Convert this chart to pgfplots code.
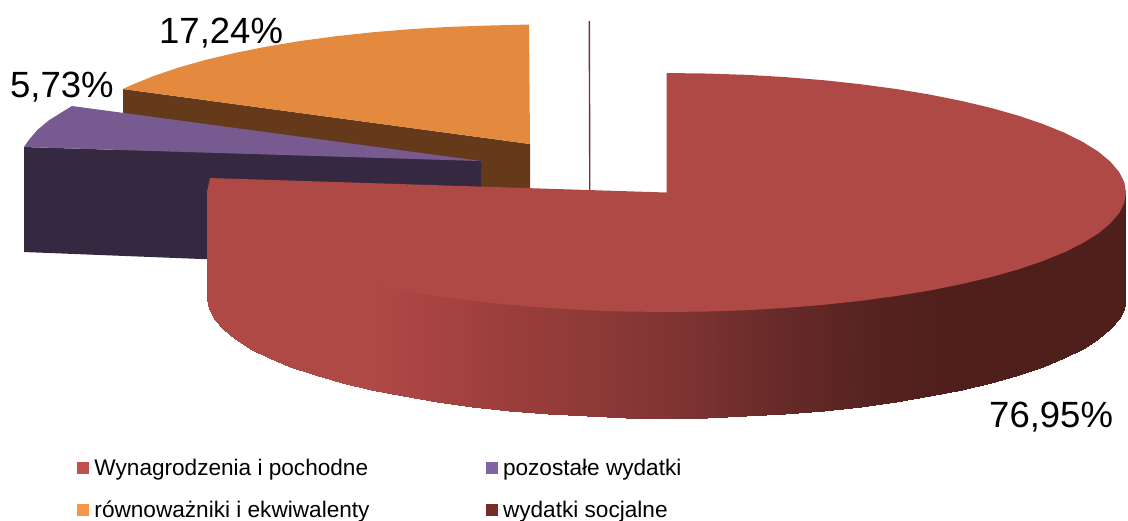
\documentclass[border=0pt]{standalone}
\usepackage{pgfplots}
\pgfplotsset{compat=1.18}
\usepackage{fontspec}
\setmainfont{Liberation Sans}
\definecolor{redface}{RGB}{175,73,70}
\definecolor{orangeface}{RGB}{227,138,63}
\definecolor{orangeside}{RGB}{101,58,27}
\definecolor{purpleface}{RGB}{118,90,144}
\definecolor{purpleside}{RGB}{53,41,66}
\definecolor{thin}{RGB}{110,50,50}
\definecolor{lega}{RGB}{192,80,77}
\definecolor{legb}{RGB}{128,100,162}
\definecolor{legc}{RGB}{247,150,70}
\definecolor{legd}{RGB}{119,44,42}
\newcommand{\biglabel}[1]{\fontsize{36.5}{40}\selectfont #1}
\begin{document}
\begin{tikzpicture}
\path[use as bounding box] (0,0) rectangle (1128pt,520pt);
\begin{axis}[
  at={(0,0)}, anchor=south west,
  width=1128pt, height=520pt, scale only axis,
  xmin=0, xmax=1128, ymin=0, ymax=520, zmin=-1, zmax=1,
  y dir=reverse, view={0}{90},
  axis lines=none, clip=false,
  colormap={wall}{
    rgb255(207pt)=(175,73,70);
    rgb255(370pt)=(175,73,70);
    rgb255(480pt)=(160,64,61);
    rgb255(600pt)=(140,57,55);
    rgb255(690pt)=(124,51,49);
    rgb255(780pt)=(103,42,40);
    rgb255(870pt)=(87,35,32);
    rgb255(950pt)=(79,31,28);
    rgb255(1126pt)=(79,31,28)},
  legend columns=2,
  legend image code/.code={\path[#1] (0pt,-6pt) rectangle (12pt,6pt); \path (0pt,0pt) -- (15.5pt,0pt);},
  legend style={
    at={(0.06826,0.1212)}, anchor=north west, draw=none, fill=none,
    inner sep=0pt, outer sep=0pt, font=\fontsize{22.6}{25}\selectfont,
    /tikz/every even column/.append style={column sep=114pt},
    row sep=20pt,
    nodes={inner sep=2pt},
    cells={anchor=west}},
]
% thin slice: wydatki socjalne
\addplot3[forget plot, draw=thin, line width=1.4pt] coordinates {(589.3,21,0) (589.8,192,0)};
% rownowazniki: side and face
\addplot3[forget plot, fill=orangeside, draw=none] coordinates {(123,89,0) (530,144,0) (530,200,0) (123,200,0)} --cycle;
\addplot3[forget plot, fill=orangeface, draw=none] coordinates {
(530,144,0) (529,24.5,0) (489.9,25.5,0) (450.2,26.8,0) (411.1,29.1,0) (372.8,32.2,0) (335.8,36.2,0) (300.2,41,0)
(266.4,46.6,0) (234.6,53,0) (205.1,60,0) (178,67.7,0) (153.6,76,0) (132.1,84.7,0) (123,89,0)} --cycle;
% pozostale: side and face
\addplot3[forget plot, fill=purpleside, draw=none] coordinates {(24,147,0) (481,161,0) (481,270,0) (24,252,0)} --cycle;
\addplot3[forget plot, fill=purpleface, draw=none] coordinates {
(481,161,0) (72,106,0) (64.6,110.5,0) (49.2,120.1,0) (37.2,130.1,0) (28.5,140.3,0) (24,147,0)} --cycle;
% wynagrodzenia: wall (upper row tucked 3 units under the face)
\addplot3[forget plot, surf, shader=interp, mesh/rows=2, point meta=x, point meta min=207, point meta max=1126] coordinates {
(207,189.5,0)(208.7,199.9,0)(214,210.2,0)(222.7,220.4,0)(234.7,230.4,0)(250.1,240,0)(268.6,249.3,0)(290.1,258,0)(314.5,266.3,0)(341.6,274,0)(371.1,281,0)(402.9,287.4,0)(436.7,293,0)(472.3,297.8,0)(509.3,301.8,0)(547.6,304.9,0)(586.7,307.2,0)(626.4,308.5,0)(666.5,309,0)(706.6,308.5,0)(746.3,307.2,0)(785.4,304.9,0)(823.7,301.8,0)(860.7,297.8,0)(896.3,293,0)(930.1,287.4,0)(961.9,281,0)(991.4,274,0)(1018.5,266.3,0)(1042.9,258,0)(1064.4,249.3,0)(1082.9,240,0)(1098.3,230.4,0)(1110.3,220.4,0)(1119,210.2,0)(1124.3,199.9,0)(1126,189.5,0)

(207,298.5,0)(208.7,308.9,0)(214,319.2,0)(222.7,329.4,0)(234.7,339.4,0)(250.1,349,0)(268.6,358.3,0)(290.1,367,0)(314.5,375.3,0)(341.6,383,0)(371.1,390,0)(402.9,396.4,0)(436.7,402,0)(472.3,406.8,0)(509.3,410.8,0)(547.6,413.9,0)(586.7,416.2,0)(626.4,417.5,0)(666.5,418,0)(706.6,417.5,0)(746.3,416.2,0)(785.4,413.9,0)(823.7,410.8,0)(860.7,406.8,0)(896.3,402,0)(930.1,396.4,0)(961.9,390,0)(991.4,383,0)(1018.5,375.3,0)(1042.9,367,0)(1064.4,358.3,0)(1082.9,349,0)(1098.3,339.4,0)(1110.3,329.4,0)(1119,319.2,0)(1124.3,308.9,0)(1126,298.5,0)
};
% wynagrodzenia: face
\addplot3[forget plot, fill=redface, draw=none] coordinates {
(666.5,192.5,0)(666.5,73,0)(706.6,73.5,0)(746.3,74.8,0)(785.4,77.1,0)(823.7,80.2,0)(860.7,84.2,0)(896.3,89,0)(930.1,94.6,0)(961.9,101,0)(991.4,108,0)(1018.5,115.7,0)(1042.9,124,0)(1064.4,132.7,0)(1082.9,142,0)(1098.3,151.6,0)(1110.3,161.6,0)(1119,171.8,0)(1124.3,182.1,0)(1126,192.5,0)
(1124.3,202.9,0)(1119,213.2,0)(1110.3,223.4,0)(1098.3,233.4,0)(1082.9,243,0)(1064.4,252.3,0)(1042.9,261,0)(1018.5,269.3,0)(991.4,277,0)(961.9,284,0)(930.1,290.4,0)(896.3,296,0)(860.7,300.8,0)(823.7,304.8,0)(785.4,307.9,0)(746.3,310.2,0)(706.6,311.5,0)(666.5,312,0)
(626.4,311.5,0)(586.7,310.2,0)(547.6,307.9,0)(509.3,304.8,0)(472.3,300.8,0)(436.7,296,0)(402.9,290.4,0)(371.1,284,0)(341.6,277,0)(314.5,269.3,0)(290.1,261,0)(268.6,252.3,0)(250.1,243,0)(234.7,233.4,0)(222.7,223.4,0)(214,213.2,0)(208.7,202.9,0)(207,192.5,0)(210,178,0)} --cycle;
\addlegendimage{fill=lega, draw=none}
\addlegendentry{Wynagrodzenia i pochodne}
\addlegendimage{fill=legb, draw=none}
\addlegendentry{pozostałe wydatki}
\addlegendimage{fill=legc, draw=none}
\addlegendentry{równoważniki i ekwiwalenty}
\addlegendimage{fill=legd, draw=none}
\addlegendentry{wydatki socjalne}
\node[anchor=base west, inner sep=0pt] at (axis cs:159,43,0) {\biglabel{17,24\%}};
\node[anchor=base west, inner sep=0pt] at (axis cs:10,97,0) {\biglabel{5,73\%}};
\node[anchor=base west, inner sep=0pt] at (axis cs:989,427,0) {\biglabel{76,95\%}};
\end{axis}
\end{tikzpicture}
\end{document}
